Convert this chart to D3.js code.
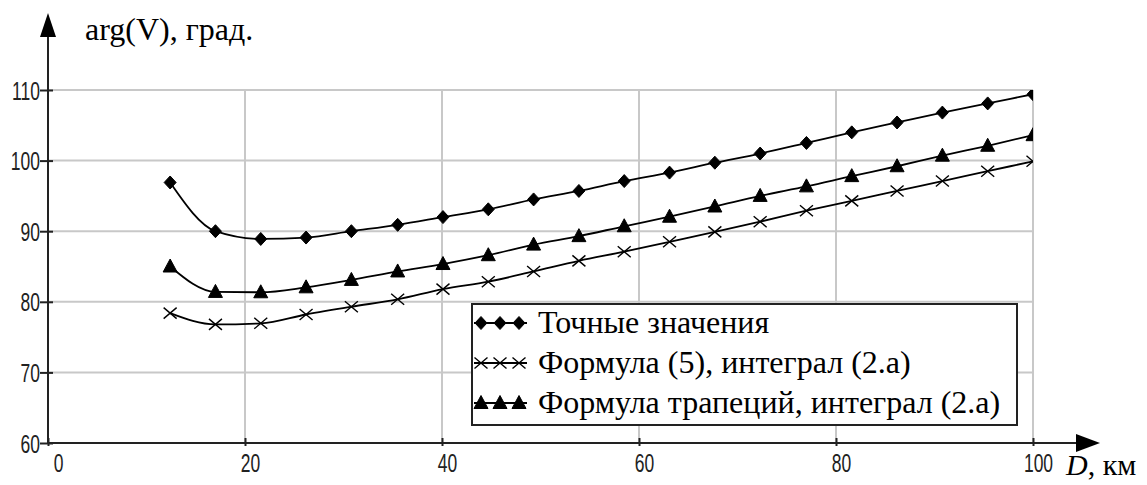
<!DOCTYPE html>
<html>
<head>
<meta charset="utf-8">
<script src="https://cdn.jsdelivr.net/npm/d3@7"></script>
<style>
  body { margin: 0; background: #fff; }
  svg { display: block; }
</style>
</head>
<body>
<div id="chart"></div>
<script>
// Values
const distances = [12.4, 17.0, 21.6, 26.2, 30.8, 35.5, 40.1, 44.7, 49.3, 53.9,
  58.5, 63.1, 67.7, 72.3, 77.0, 81.6, 86.2, 90.8, 95.4, 100];
const exactValues = [96.9, 90.0, 88.9, 89.1, 90.0, 90.9, 92.0, 93.1, 94.5, 95.7,
  97.1, 98.3, 99.7, 101.0, 102.5, 104.0, 105.4, 106.8, 108.1, 109.4];
const formula5Values = [78.4, 76.8, 76.95, 78.2, 79.3, 80.35, 81.8, 82.85, 84.3, 85.8,
  87.1, 88.5, 89.9, 91.35, 92.9, 94.3, 95.7, 97.1, 98.5, 99.9];
const trapezoidValues = [85.0, 81.4, 81.35, 82.05, 83.1, 84.3, 85.35, 86.6, 88.1, 89.3,
  90.7, 92.05, 93.5, 95.0, 96.35, 97.8, 99.2, 100.7, 102.1, 103.6];
const xTicks = [0, 20, 40, 60, 80, 100];
const yTicks = [60, 70, 80, 90, 100, 110];
const legendLabels = [
  "Точные значения",
  "Формула (5), интеграл (2.а)",
  "Формула трапеций, интеграл (2.а)",
];

const width = 1147;
const height = 485;

const x = d3.scaleLinear().domain([0, 100]).range([48, 1033]);
const y = d3.scaleLinear().domain([60, 110]).range([443, 90]);

const svg = d3
  .select("#chart")
  .append("svg")
  .attr("width", width)
  .attr("height", height);

// marker shapes
const markers = {
  diamond: "M0,-6.5L6,0L0,6.5L-6,0Z",
  cross: "M-6.5,-5.5L6.5,5.5M-6.5,5.5L6.5,-5.5",
  triangle: "M0,-7.5L7,5.5L-7,5.5Z",
};

const series = [
  { values: exactValues, marker: "diamond" },
  { values: formula5Values, marker: "cross" },
  { values: trapezoidValues, marker: "triangle" },
];

// grid
const grid = svg.append("g").attr("stroke", "#c8c8c8").attr("stroke-width", 2);
grid
  .selectAll(".hgrid")
  .data(yTicks.slice(1))
  .enter()
  .append("line")
  .attr("x1", x(0))
  .attr("x2", x(100))
  .attr("y1", (d) => y(d))
  .attr("y2", (d) => y(d));
grid
  .selectAll(".vgrid")
  .data(xTicks.slice(1))
  .enter()
  .append("line")
  .attr("x1", (d) => x(d))
  .attr("x2", (d) => x(d))
  .attr("y1", y(60))
  .attr("y2", y(110));

// axes
const labelFont = '"Liberation Sans"';
const serifFont = '"Liberation Serif"';
const squeeze = 0.7;

const xAxis = svg
  .append("g")
  .attr("transform", `translate(0,${y(60)})`)
  .call(d3.axisBottom(x).tickValues(xTicks).tickSize(0).tickPadding(0));
xAxis.select(".domain").remove();
xAxis
  .selectAll(".tick")
  .append("line")
  .attr("y1", -5)
  .attr("y2", 3)
  .attr("stroke", "#222")
  .attr("stroke-width", 2);
xAxis
  .selectAll("text")
  .style("font-family", labelFont)
  .style("font-size", "25px")
  .attr("fill", "#222")
  .attr("dy", null)
  .attr("y", 29)
  .attr("x", (d) => (d === 0 ? 10 : 5) / squeeze)
  .attr("transform", `scale(${squeeze},1)`);

const yAxis = svg
  .append("g")
  .attr("transform", `translate(${x(0)},0)`)
  .call(d3.axisLeft(y).tickValues(yTicks).tickSize(0).tickPadding(0));
yAxis.select(".domain").remove();
yAxis
  .selectAll(".tick")
  .append("line")
  .attr("x1", -8)
  .attr("x2", 5)
  .attr("stroke", "#222")
  .attr("stroke-width", 2);
yAxis
  .selectAll("text")
  .style("font-family", labelFont)
  .style("font-size", "25px")
  .attr("fill", "#222")
  .attr("dy", "0.36em")
  .attr("x", -8 / squeeze)
  .attr("transform", `scale(${squeeze},1)`);

// axis lines with arrows
svg
  .append("line")
  .attr("x1", x(0))
  .attr("x2", 1080)
  .attr("y1", y(60))
  .attr("y2", y(60))
  .attr("stroke", "#222")
  .attr("stroke-width", 2);
svg
  .append("path")
  .attr("d", `M1100,${y(60)}L1076,${y(60) - 9}L1076,${y(60) + 9}Z`)
  .attr("fill", "#000");
svg
  .append("line")
  .attr("x1", x(0))
  .attr("x2", x(0))
  .attr("y1", y(60))
  .attr("y2", 34)
  .attr("stroke", "#222")
  .attr("stroke-width", 2);
svg
  .append("path")
  .attr("d", `M${x(0)},13L${x(0) - 8},37L${x(0) + 8},37Z`)
  .attr("fill", "#000");

// axis titles
svg
  .append("text")
  .attr("x", 85)
  .attr("y", 40)
  .style("font-family", serifFont)
  .style("font-size", "32px")
  .text("arg(V), град.");

const dLabel = svg
  .append("text")
  .attr("x", 1066)
  .attr("y", 475)
  .style("font-family", serifFont)
  .style("font-size", "30px");
dLabel.append("tspan").style("font-style", "italic").text("D");
dLabel.append("tspan").text(", км");

// curves
svg
  .append("clipPath")
  .attr("id", "plotClip")
  .append("rect")
  .attr("x", x(0))
  .attr("y", y(110))
  .attr("width", x(100) - x(0))
  .attr("height", y(60) - y(110));

const plot = svg.append("g").attr("clip-path", "url(#plotClip)");

const line = d3
  .line()
  .x((d, i) => x(distances[i]))
  .y((d) => y(d))
  .curve(d3.curveMonotoneX);

series.forEach((s) => {
  plot
    .append("path")
    .datum(s.values)
    .attr("d", line)
    .attr("fill", "none")
    .attr("stroke", "#000")
    .attr("stroke-width", 1.8);

  plot
    .selectAll(null)
    .data(s.values)
    .enter()
    .append("path")
    .attr("transform", (d, i) => `translate(${x(distances[i])},${y(d)})`)
    .attr("d", markers[s.marker])
    .attr("fill", s.marker === "cross" ? "none" : "#000")
    .attr("stroke", "#000")
    .attr("stroke-width", s.marker === "cross" ? 1.4 : 1);
});

// legend
const legend = svg.append("g");
legend
  .append("rect")
  .attr("x", 472)
  .attr("y", 304)
  .attr("width", 545)
  .attr("height", 121)
  .attr("fill", "#fff")
  .attr("stroke", "#222")
  .attr("stroke-width", 2);

legendLabels.forEach((label, i) => {
  const cy = 323 + i * 40;
  const row = legend.append("g");
  row
    .append("line")
    .attr("x1", 474)
    .attr("x2", 527)
    .attr("y1", cy)
    .attr("y2", cy)
    .attr("stroke", "#000")
    .attr("stroke-width", 1.8);
  [481, 500, 519].forEach((mx) => {
    row
      .append("path")
      .attr("transform", `translate(${mx},${cy})`)
      .attr("d", markers[series[i].marker])
      .attr("fill", series[i].marker === "cross" ? "none" : "#000")
      .attr("stroke", "#000")
      .attr("stroke-width", series[i].marker === "cross" ? 1.4 : 1);
  });
  row
    .append("text")
    .attr("x", 538)
    .attr("y", cy + 10)
    .style("font-family", serifFont)
    .style("font-size", "32px")
    .text(label);
});
</script>
</body>
</html>
